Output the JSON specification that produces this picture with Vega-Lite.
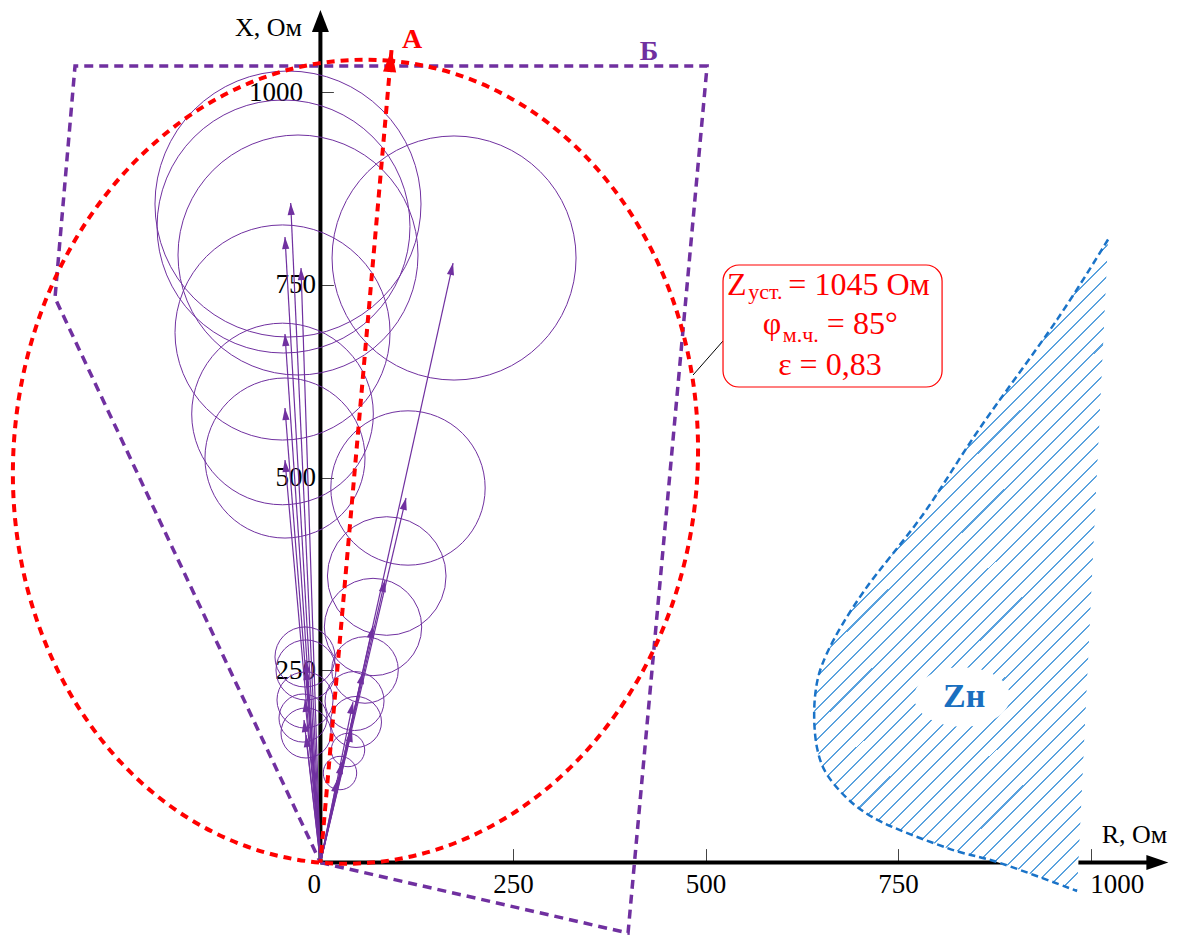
{
"$schema":"https://vega.github.io/schema/vega-lite/v6.json",
"width":1180,"height":935,"padding":0,"autosize":{"type":"none"},
"background":"white",
"config":{"view":{"stroke":null},"font":"Liberation Serif"},
"datasets":{
"axes":[{"R":0,"X":0,"R2":0,"X2":1092},{"R":0,"X":0,"R2":1088,"X2":0}],
"axisArrows":[{"R":0,"X":1107,"dir":"up"},{"R":1100.9,"X":0,"dir":"right"}],
"circles":[
{"R":-42.1,"X":855.1,"d":345.4},{"R":-47.9,"X":825.9,"d":328.4},{"R":-29.1,"X":788.9,"d":311.6},{"R":-49.2,"X":688.3,"d":279.2},{"R":-49.2,"X":582.5,"d":235.8},{"R":-46.0,"X":525.3,"d":207.8},
{"R":173.5,"X":785.0,"d":316.8},{"R":113.7,"X":486.4,"d":200.4},{"R":86.1,"X":372.1,"d":154.0},{"R":68.3,"X":305.9,"d":126.4},{"R":57.9,"X":250.1,"d":86.4},{"R":44.3,"X":209.8,"d":76.6},{"R":46.2,"X":182.6,"d":66.2},{"R":35.8,"X":146.2,"d":43.4},{"R":25.4,"X":116.3,"d":43.4},
{"R":-20.0,"X":267.0,"d":78},{"R":-18.7,"X":250.1,"d":78},{"R":-20.0,"X":211.1,"d":72.8},{"R":-22.6,"X":187.7,"d":62.4},{"R":-18.7,"X":168.3,"d":65}],
"vectors":[
{"R":-38.6,"X":856.4},{"R":-46.0,"X":812.3},{"R":-25.2,"X":772.0},{"R":-46.0,"X":686.3},{"R":-46.0,"X":590.2},{"R":-46.0,"X":522.7},
{"R":-18.7,"X":263.1},{"R":-18.7,"X":252.7},{"R":-20.0,"X":211.1},{"R":-21.3,"X":185.1},{"R":-18.7,"X":165.6},
{"R":172.2,"X":778.5},{"R":111.1,"X":473.4},{"R":83.9,"X":366.9},{"R":68.3,"X":307.2},{"R":55.3,"X":247.5},{"R":42.3,"X":208.5},{"R":41.0,"X":172.2},{"R":28.0,"X":130.6},{"R":21.6,"X":107.2}],
"polyB":[{"i":0,"R":0,"X":0},{"i":1,"R":399.4,"X":-91.4},{"i":2,"R":502.0,"X":1034.3},{"i":3,"R":-318.6,"X":1034.3},{"i":4,"R":-344.6,"X":733.1},{"i":5,"R":0,"X":0}],
"ellipseA":[{"R":45.5,"X":520.5,"d":1045}],
"vecA":[{"R":92.3,"X":1055}],
"load":[
{"i":0,"X":809.0,"R":1022.6,"R2":1022.6},{"i":1,"X":705.0,"R":956.4,"R2":1017.7},{"i":2,"X":564.5,"R":856.4,"R2":1011.0},{"i":3,"X":452.1,"R":782.4,"R2":1005.6},{"i":4,"X":350.8,"R":704.5,"R2":1000.8},{"i":5,"X":272.1,"R":657.8,"R2":997.1},{"i":6,"X":216.3,"R":642.2,"R2":994.4},{"i":7,"X":148.8,"R":644.8,"R2":991.2},{"i":8,"X":103.4,"R":665.6,"R2":989.1},{"i":9,"X":58.6,"R":717.5,"R2":986.9},{"i":10,"X":19.0,"R":813.6,"R2":985.1},{"i":11,"X":-0.5,"R":882.4,"R2":984.1},{"i":12,"X":-36.9,"R":982.4,"R2":982.4}],
"box":[{"R":522.7,"X":617.5,"R2":807.1,"X2":775.9}],
"leader":[{"R":522.7,"X":677.3,"R2":483.8,"X2":633.1}],
"bigText":[{"t":"Z","R":527.9,"X":737.0},{"t":"= 1045 Ом","R":607.5,"X":737.0},{"t":"φ","R":574.4,"X":686.3},{"t":"= 85°","R":657.5,"X":686.3},{"t":"ε = 0,83","R":594.3,"X":633.1}],
"smallText":[{"t":"уст.","R":555.4,"X":731.8},{"t":"м.ч.","R":600.3,"X":676.0}],
"charLabels":[{"t":"A","k":"A","R":118.9,"X":1057.7},{"t":"Б","k":"B","R":426.7,"X":1042.1}],
"zlabel":[{"t":"Zн","R":835.7,"X":202.0,"cR":833.1,"cX":215.0}]
},
"layer":[
{"data":{"name":"axes"},"mark":{"type":"rule","strokeWidth":4,"color":"black"},
 "encoding":{
  "x":{"field":"R","type":"quantitative","title":null,"scale":{"domain":[-416,1116],"nice":false,"zero":false},
   "axis":{"title":null,"orient":"bottom","offset":-72.4,"domain":false,"grid":false,"values":[0,250,500,750,1000],"format":"d","tickSize":-14,"tickColor":"#444","tickWidth":1,"labelFont":"Liberation Serif","labelFontSize":27,"labelColor":"black","labelPadding":44,"labelBaseline":"alphabetic","labelAlign":{"condition":{"test":"datum.value == 0","value":"right"},"value":"center"},"labelOffset":{"condition":{"test":"datum.value == 1000","value":26},"value":0},"labelFlush":false,"labelOverlap":false}},
  "y":{"field":"X","type":"quantitative","title":null,"scale":{"domain":[-94,1120],"nice":false,"zero":false},
   "axis":{"title":null,"orient":"left","offset":-320.4,"domain":false,"grid":false,"values":[250,500,750,1000],"format":"d","tickSize":-13,"tickColor":"#444","tickWidth":1,"labelFont":"Liberation Serif","labelFontSize":27,"labelColor":"black","labelPadding":{"condition":{"test":"datum.value == 1000","value":31},"value":18},"labelFlush":false,"labelOverlap":false}},
  "x2":{"field":"R2"},"y2":{"field":"X2"}}},
{"data":{"name":"axisArrows"},"mark":{"type":"point","filled":true,"color":"black","opacity":1,"strokeWidth":0,"size":484},
 "encoding":{
  "x":{"field":"R","type":"quantitative","title":null,"scale":{"domain":[-416,1116],"nice":false,"zero":false}},
  "y":{"field":"X","type":"quantitative","title":null,"scale":{"domain":[-94,1120],"nice":false,"zero":false}},
  "shape":{"field":"dir","type":"nominal","scale":{"domain":["up","right"],"range":["M0,0 L0.77,2 L-0.77,2 Z","M0,0 L-2,0.68 L-2,-0.68 Z"]},"legend":null}}},
{"data":{"name":"circles"},"mark":{"type":"point","shape":"circle","filled":false,"stroke":"#7030A0","strokeWidth":1,"opacity":1},
 "encoding":{
  "x":{"field":"R","type":"quantitative","title":null,"scale":{"domain":[-416,1116],"nice":false,"zero":false}},
  "y":{"field":"X","type":"quantitative","title":null,"scale":{"domain":[-94,1120],"nice":false,"zero":false}},
  "size":{"field":"d","type":"quantitative","scale":{"type":"pow","exponent":2,"domain":[0,1000],"range":[0,593208],"zero":true},"legend":null}}},
{"data":{"name":"vectors"},"mark":{"type":"rule","color":"#7030A0","strokeWidth":1.2},
 "encoding":{
  "x":{"field":"R","type":"quantitative","title":null,"scale":{"domain":[-416,1116],"nice":false,"zero":false}},
  "y":{"field":"X","type":"quantitative","title":null,"scale":{"domain":[-94,1120],"nice":false,"zero":false}},
  "x2":{"datum":0},"y2":{"datum":0}}},
{"data":{"name":"vectors"},"transform":[{"calculate":"atan2(datum.R, datum.X)*180/PI","as":"ang"}],
 "mark":{"type":"point","filled":true,"color":"#7030A0","opacity":1,"strokeWidth":0,"size":144,"shape":"M0,0 L0.6,2 L-0.6,2 Z"},
 "encoding":{
  "x":{"field":"R","type":"quantitative","title":null,"scale":{"domain":[-416,1116],"nice":false,"zero":false}},
  "y":{"field":"X","type":"quantitative","title":null,"scale":{"domain":[-94,1120],"nice":false,"zero":false}},
  "angle":{"field":"ang","type":"quantitative","scale":null}}},
{"data":{"name":"polyB"},"mark":{"type":"line","color":"#7030A0","strokeWidth":3.5,"strokeDash":[9,6]},
 "encoding":{
  "x":{"field":"R","type":"quantitative","title":null,"scale":{"domain":[-416,1116],"nice":false,"zero":false}},
  "y":{"field":"X","type":"quantitative","title":null,"scale":{"domain":[-94,1120],"nice":false,"zero":false}},
  "order":{"field":"i","type":"quantitative"}}},
{"data":{"name":"vecA"},"mark":{"type":"rule","color":"#FF0000","strokeWidth":4,"strokeDash":[8,6]},
 "encoding":{
  "x":{"field":"R","type":"quantitative","title":null,"scale":{"domain":[-416,1116],"nice":false,"zero":false}},
  "y":{"field":"X","type":"quantitative","title":null,"scale":{"domain":[-94,1120],"nice":false,"zero":false}},
  "x2":{"datum":0},"y2":{"datum":0}}},
{"data":{"name":"vecA"},"transform":[{"calculate":"atan2(datum.R, datum.X)*180/PI","as":"ang"}],
 "mark":{"type":"point","filled":true,"color":"#FF0000","opacity":1,"strokeWidth":0,"size":484,"shape":"M0,0 L0.6,2 L-0.6,2 Z"},
 "encoding":{
  "x":{"field":"R","type":"quantitative","title":null,"scale":{"domain":[-416,1116],"nice":false,"zero":false}},
  "y":{"field":"X","type":"quantitative","title":null,"scale":{"domain":[-94,1120],"nice":false,"zero":false}},
  "angle":{"field":"ang","type":"quantitative","scale":null}}},
{"data":{"name":"ellipseA"},"mark":{"type":"point","filled":false,"stroke":"#FF0000","strokeWidth":4,"strokeDash":[8,6],"opacity":1,"shape":"M0.0872,-0.9962 A0.85,1 5 1,0 -0.0872,0.9962 A0.85,1 5 1,0 0.0872,-0.9962 Z"},
 "encoding":{
  "x":{"field":"R","type":"quantitative","title":null,"scale":{"domain":[-416,1116],"nice":false,"zero":false}},
  "y":{"field":"X","type":"quantitative","title":null,"scale":{"domain":[-94,1120],"nice":false,"zero":false}},
  "size":{"field":"d","type":"quantitative","scale":{"type":"pow","exponent":2,"domain":[0,1000],"range":[0,593208],"zero":true},"legend":null}}},
{"data":{"name":"load"},"mark":{"type":"area","orient":"horizontal","interpolate":"cardinal","opacity":1,
  "fill":{"gradient":"linear","x1":0,"y1":0,"x2":0.543,"y2":1.206,"stops":[
{"offset":0,"color":"#fff"},{"offset":0.0145,"color":"#fff"},{"offset":0.0145,"color":"#5aa2de"},{"offset":0.0167,"color":"#5aa2de"},
{"offset":0.0167,"color":"#fff"},{"offset":0.0312,"color":"#fff"},{"offset":0.0312,"color":"#5aa2de"},{"offset":0.0333,"color":"#5aa2de"},
{"offset":0.0333,"color":"#fff"},{"offset":0.0478,"color":"#fff"},{"offset":0.0478,"color":"#5aa2de"},{"offset":0.05,"color":"#5aa2de"},
{"offset":0.05,"color":"#fff"},{"offset":0.0645,"color":"#fff"},{"offset":0.0645,"color":"#5aa2de"},{"offset":0.0667,"color":"#5aa2de"},
{"offset":0.0667,"color":"#fff"},{"offset":0.0812,"color":"#fff"},{"offset":0.0812,"color":"#5aa2de"},{"offset":0.0833,"color":"#5aa2de"},
{"offset":0.0833,"color":"#fff"},{"offset":0.0978,"color":"#fff"},{"offset":0.0978,"color":"#5aa2de"},{"offset":0.1,"color":"#5aa2de"},
{"offset":0.1,"color":"#fff"},{"offset":0.1145,"color":"#fff"},{"offset":0.1145,"color":"#5aa2de"},{"offset":0.1167,"color":"#5aa2de"},
{"offset":0.1167,"color":"#fff"},{"offset":0.1312,"color":"#fff"},{"offset":0.1312,"color":"#5aa2de"},{"offset":0.1333,"color":"#5aa2de"},
{"offset":0.1333,"color":"#fff"},{"offset":0.1478,"color":"#fff"},{"offset":0.1478,"color":"#5aa2de"},{"offset":0.15,"color":"#5aa2de"},
{"offset":0.15,"color":"#fff"},{"offset":0.1645,"color":"#fff"},{"offset":0.1645,"color":"#5aa2de"},{"offset":0.1667,"color":"#5aa2de"},
{"offset":0.1667,"color":"#fff"},{"offset":0.1812,"color":"#fff"},{"offset":0.1812,"color":"#5aa2de"},{"offset":0.1833,"color":"#5aa2de"},
{"offset":0.1833,"color":"#fff"},{"offset":0.1978,"color":"#fff"},{"offset":0.1978,"color":"#5aa2de"},{"offset":0.2,"color":"#5aa2de"},
{"offset":0.2,"color":"#fff"},{"offset":0.2145,"color":"#fff"},{"offset":0.2145,"color":"#5aa2de"},{"offset":0.2167,"color":"#5aa2de"},
{"offset":0.2167,"color":"#fff"},{"offset":0.2312,"color":"#fff"},{"offset":0.2312,"color":"#5aa2de"},{"offset":0.2333,"color":"#5aa2de"},
{"offset":0.2333,"color":"#fff"},{"offset":0.2478,"color":"#fff"},{"offset":0.2478,"color":"#5aa2de"},{"offset":0.25,"color":"#5aa2de"},
{"offset":0.25,"color":"#fff"},{"offset":0.2645,"color":"#fff"},{"offset":0.2645,"color":"#5aa2de"},{"offset":0.2667,"color":"#5aa2de"},
{"offset":0.2667,"color":"#fff"},{"offset":0.2812,"color":"#fff"},{"offset":0.2812,"color":"#5aa2de"},{"offset":0.2833,"color":"#5aa2de"},
{"offset":0.2833,"color":"#fff"},{"offset":0.2978,"color":"#fff"},{"offset":0.2978,"color":"#5aa2de"},{"offset":0.3,"color":"#5aa2de"},
{"offset":0.3,"color":"#fff"},{"offset":0.3145,"color":"#fff"},{"offset":0.3145,"color":"#5aa2de"},{"offset":0.3167,"color":"#5aa2de"},
{"offset":0.3167,"color":"#fff"},{"offset":0.3312,"color":"#fff"},{"offset":0.3312,"color":"#5aa2de"},{"offset":0.3333,"color":"#5aa2de"},
{"offset":0.3333,"color":"#fff"},{"offset":0.3478,"color":"#fff"},{"offset":0.3478,"color":"#5aa2de"},{"offset":0.35,"color":"#5aa2de"},
{"offset":0.35,"color":"#fff"},{"offset":0.3645,"color":"#fff"},{"offset":0.3645,"color":"#5aa2de"},{"offset":0.3667,"color":"#5aa2de"},
{"offset":0.3667,"color":"#fff"},{"offset":0.3812,"color":"#fff"},{"offset":0.3812,"color":"#5aa2de"},{"offset":0.3833,"color":"#5aa2de"},
{"offset":0.3833,"color":"#fff"},{"offset":0.3978,"color":"#fff"},{"offset":0.3978,"color":"#5aa2de"},{"offset":0.4,"color":"#5aa2de"},
{"offset":0.4,"color":"#fff"},{"offset":0.4145,"color":"#fff"},{"offset":0.4145,"color":"#5aa2de"},{"offset":0.4167,"color":"#5aa2de"},
{"offset":0.4167,"color":"#fff"},{"offset":0.4312,"color":"#fff"},{"offset":0.4312,"color":"#5aa2de"},{"offset":0.4333,"color":"#5aa2de"},
{"offset":0.4333,"color":"#fff"},{"offset":0.4478,"color":"#fff"},{"offset":0.4478,"color":"#5aa2de"},{"offset":0.45,"color":"#5aa2de"},
{"offset":0.45,"color":"#fff"},{"offset":0.4645,"color":"#fff"},{"offset":0.4645,"color":"#5aa2de"},{"offset":0.4667,"color":"#5aa2de"},
{"offset":0.4667,"color":"#fff"},{"offset":0.4812,"color":"#fff"},{"offset":0.4812,"color":"#5aa2de"},{"offset":0.4833,"color":"#5aa2de"},
{"offset":0.4833,"color":"#fff"},{"offset":0.4978,"color":"#fff"},{"offset":0.4978,"color":"#5aa2de"},{"offset":0.5,"color":"#5aa2de"},
{"offset":0.5,"color":"#fff"},{"offset":0.5145,"color":"#fff"},{"offset":0.5145,"color":"#5aa2de"},{"offset":0.5167,"color":"#5aa2de"},
{"offset":0.5167,"color":"#fff"},{"offset":0.5312,"color":"#fff"},{"offset":0.5312,"color":"#5aa2de"},{"offset":0.5333,"color":"#5aa2de"},
{"offset":0.5333,"color":"#fff"},{"offset":0.5478,"color":"#fff"},{"offset":0.5478,"color":"#5aa2de"},{"offset":0.55,"color":"#5aa2de"},
{"offset":0.55,"color":"#fff"},{"offset":0.5645,"color":"#fff"},{"offset":0.5645,"color":"#5aa2de"},{"offset":0.5667,"color":"#5aa2de"},
{"offset":0.5667,"color":"#fff"},{"offset":0.5812,"color":"#fff"},{"offset":0.5812,"color":"#5aa2de"},{"offset":0.5833,"color":"#5aa2de"},
{"offset":0.5833,"color":"#fff"},{"offset":0.5978,"color":"#fff"},{"offset":0.5978,"color":"#5aa2de"},{"offset":0.6,"color":"#5aa2de"},
{"offset":0.6,"color":"#fff"},{"offset":0.6145,"color":"#fff"},{"offset":0.6145,"color":"#5aa2de"},{"offset":0.6167,"color":"#5aa2de"},
{"offset":0.6167,"color":"#fff"},{"offset":0.6312,"color":"#fff"},{"offset":0.6312,"color":"#5aa2de"},{"offset":0.6333,"color":"#5aa2de"},
{"offset":0.6333,"color":"#fff"},{"offset":0.6478,"color":"#fff"},{"offset":0.6478,"color":"#5aa2de"},{"offset":0.65,"color":"#5aa2de"},
{"offset":0.65,"color":"#fff"},{"offset":0.6645,"color":"#fff"},{"offset":0.6645,"color":"#5aa2de"},{"offset":0.6667,"color":"#5aa2de"},
{"offset":0.6667,"color":"#fff"},{"offset":0.6812,"color":"#fff"},{"offset":0.6812,"color":"#5aa2de"},{"offset":0.6833,"color":"#5aa2de"},
{"offset":0.6833,"color":"#fff"},{"offset":0.6978,"color":"#fff"},{"offset":0.6978,"color":"#5aa2de"},{"offset":0.7,"color":"#5aa2de"},
{"offset":0.7,"color":"#fff"},{"offset":0.7145,"color":"#fff"},{"offset":0.7145,"color":"#5aa2de"},{"offset":0.7167,"color":"#5aa2de"},
{"offset":0.7167,"color":"#fff"},{"offset":0.7312,"color":"#fff"},{"offset":0.7312,"color":"#5aa2de"},{"offset":0.7333,"color":"#5aa2de"},
{"offset":0.7333,"color":"#fff"},{"offset":0.7478,"color":"#fff"},{"offset":0.7478,"color":"#5aa2de"},{"offset":0.75,"color":"#5aa2de"},
{"offset":0.75,"color":"#fff"},{"offset":0.7645,"color":"#fff"},{"offset":0.7645,"color":"#5aa2de"},{"offset":0.7667,"color":"#5aa2de"},
{"offset":0.7667,"color":"#fff"},{"offset":0.7812,"color":"#fff"},{"offset":0.7812,"color":"#5aa2de"},{"offset":0.7833,"color":"#5aa2de"},
{"offset":0.7833,"color":"#fff"},{"offset":0.7978,"color":"#fff"},{"offset":0.7978,"color":"#5aa2de"},{"offset":0.8,"color":"#5aa2de"},
{"offset":0.8,"color":"#fff"},{"offset":0.8145,"color":"#fff"},{"offset":0.8145,"color":"#5aa2de"},{"offset":0.8167,"color":"#5aa2de"},
{"offset":0.8167,"color":"#fff"},{"offset":0.8312,"color":"#fff"},{"offset":0.8312,"color":"#5aa2de"},{"offset":0.8333,"color":"#5aa2de"},
{"offset":0.8333,"color":"#fff"},{"offset":0.8478,"color":"#fff"},{"offset":0.8478,"color":"#5aa2de"},{"offset":0.85,"color":"#5aa2de"},
{"offset":0.85,"color":"#fff"},{"offset":0.8645,"color":"#fff"},{"offset":0.8645,"color":"#5aa2de"},{"offset":0.8667,"color":"#5aa2de"},
{"offset":0.8667,"color":"#fff"},{"offset":0.8812,"color":"#fff"},{"offset":0.8812,"color":"#5aa2de"},{"offset":0.8833,"color":"#5aa2de"},
{"offset":0.8833,"color":"#fff"},{"offset":0.8978,"color":"#fff"},{"offset":0.8978,"color":"#5aa2de"},{"offset":0.9,"color":"#5aa2de"},
{"offset":0.9,"color":"#fff"},{"offset":0.9145,"color":"#fff"},{"offset":0.9145,"color":"#5aa2de"},{"offset":0.9167,"color":"#5aa2de"},
{"offset":0.9167,"color":"#fff"},{"offset":0.9312,"color":"#fff"},{"offset":0.9312,"color":"#5aa2de"},{"offset":0.9333,"color":"#5aa2de"},
{"offset":0.9333,"color":"#fff"},{"offset":0.9478,"color":"#fff"},{"offset":0.9478,"color":"#5aa2de"},{"offset":0.95,"color":"#5aa2de"},
{"offset":0.95,"color":"#fff"},{"offset":0.9645,"color":"#fff"},{"offset":0.9645,"color":"#5aa2de"},{"offset":0.9667,"color":"#5aa2de"},
{"offset":0.9667,"color":"#fff"},{"offset":0.9812,"color":"#fff"},{"offset":0.9812,"color":"#5aa2de"},{"offset":0.9833,"color":"#5aa2de"},
{"offset":0.9833,"color":"#fff"},{"offset":0.9978,"color":"#fff"},{"offset":0.9978,"color":"#5aa2de"},{"offset":1,"color":"#5aa2de"}
]}},
 "encoding":{
  "x":{"field":"R","type":"quantitative","title":null,"stack":null,"scale":{"domain":[-416,1116],"nice":false,"zero":false}},
  "x2":{"field":"R2"},
  "y":{"field":"X","type":"quantitative","title":null,"scale":{"domain":[-94,1120],"nice":false,"zero":false}}}},
{"data":{"name":"load"},"mark":{"type":"line","interpolate":"cardinal","color":"#1a73c8","strokeWidth":2.5,"strokeDash":[7,4]},
 "encoding":{
  "x":{"field":"R","type":"quantitative","title":null,"scale":{"domain":[-416,1116],"nice":false,"zero":false}},
  "y":{"field":"X","type":"quantitative","title":null,"scale":{"domain":[-94,1120],"nice":false,"zero":false}},
  "order":{"field":"i","type":"quantitative"}}},
{"data":{"name":"zlabel"},"mark":{"type":"point","filled":true,"color":"white","opacity":1,"strokeWidth":0,"size":9216,"shape":"M-1,0 A1,0.62 0 1,0 1,0 A1,0.62 0 1,0 -1,0 Z"},
 "encoding":{
  "x":{"field":"cR","type":"quantitative","title":null,"scale":{"domain":[-416,1116],"nice":false,"zero":false}},
  "y":{"field":"cX","type":"quantitative","title":null,"scale":{"domain":[-94,1120],"nice":false,"zero":false}}}},
{"data":{"name":"zlabel"},"mark":{"type":"text","font":"Liberation Serif","fontSize":34,"fontWeight":"bold","color":"#1a6fbf","align":"center","baseline":"alphabetic"},
 "encoding":{
  "x":{"field":"R","type":"quantitative","title":null,"scale":{"domain":[-416,1116],"nice":false,"zero":false}},
  "y":{"field":"X","type":"quantitative","title":null,"scale":{"domain":[-94,1120],"nice":false,"zero":false}},
  "text":{"field":"t"}}},
{"data":{"name":"leader"},"mark":{"type":"rule","color":"black","strokeWidth":1},
 "encoding":{
  "x":{"field":"R","type":"quantitative","title":null,"scale":{"domain":[-416,1116],"nice":false,"zero":false}},
  "y":{"field":"X","type":"quantitative","title":null,"scale":{"domain":[-94,1120],"nice":false,"zero":false}},
  "x2":{"field":"R2"},"y2":{"field":"X2"}}},
{"data":{"name":"box"},"mark":{"type":"rect","fill":"white","stroke":"#FF0000","strokeWidth":1.2,"cornerRadius":16},
 "encoding":{
  "x":{"field":"R","type":"quantitative","title":null,"scale":{"domain":[-416,1116],"nice":false,"zero":false}},
  "y":{"field":"X","type":"quantitative","title":null,"scale":{"domain":[-94,1120],"nice":false,"zero":false}},
  "x2":{"field":"R2"},"y2":{"field":"X2"}}},
{"data":{"name":"bigText"},"mark":{"type":"text","font":"Liberation Serif","fontSize":32,"color":"#FF0000","align":"left","baseline":"alphabetic"},
 "encoding":{
  "x":{"field":"R","type":"quantitative","title":null,"scale":{"domain":[-416,1116],"nice":false,"zero":false}},
  "y":{"field":"X","type":"quantitative","title":null,"scale":{"domain":[-94,1120],"nice":false,"zero":false}},
  "text":{"field":"t"}}},
{"data":{"name":"smallText"},"mark":{"type":"text","font":"Liberation Serif","fontSize":22,"color":"#FF0000","align":"left","baseline":"alphabetic"},
 "encoding":{
  "x":{"field":"R","type":"quantitative","title":null,"scale":{"domain":[-416,1116],"nice":false,"zero":false}},
  "y":{"field":"X","type":"quantitative","title":null,"scale":{"domain":[-94,1120],"nice":false,"zero":false}},
  "text":{"field":"t"}}},
{"data":{"name":"charLabels"},"mark":{"type":"text","font":"Liberation Serif","fontSize":28,"fontWeight":"bold","align":"center","baseline":"alphabetic"},
 "encoding":{
  "x":{"field":"R","type":"quantitative","title":null,"scale":{"domain":[-416,1116],"nice":false,"zero":false}},
  "y":{"field":"X","type":"quantitative","title":null,"scale":{"domain":[-94,1120],"nice":false,"zero":false}},
  "text":{"field":"t"},
  "color":{"field":"k","type":"nominal","scale":{"domain":["A","B"],"range":["#FF0000","#7030A0"]},"legend":null}}},
{"data":{"values":[{"t":"X, Ом","R":-23.9,"X":1073.3}]},
 "mark":{"type":"text","font":"Liberation Serif","fontSize":26,"color":"black","baseline":"alphabetic","align":"right"},
 "encoding":{
  "x":{"field":"R","type":"quantitative","title":null,"scale":{"domain":[-416,1116],"nice":false,"zero":false}},
  "y":{"field":"X","type":"quantitative","title":null,"scale":{"domain":[-94,1120],"nice":false,"zero":false}},
  "text":{"field":"t"}}},
{"data":{"values":[{"t":"R, Ом","R":1014.4,"X":25.1}]},
 "mark":{"type":"text","font":"Liberation Serif","fontSize":26,"color":"black","baseline":"alphabetic","align":"left"},
 "encoding":{
  "x":{"field":"R","type":"quantitative","title":null,"scale":{"domain":[-416,1116],"nice":false,"zero":false}},
  "y":{"field":"X","type":"quantitative","title":null,"scale":{"domain":[-94,1120],"nice":false,"zero":false}},
  "text":{"field":"t"}}}
]
}
